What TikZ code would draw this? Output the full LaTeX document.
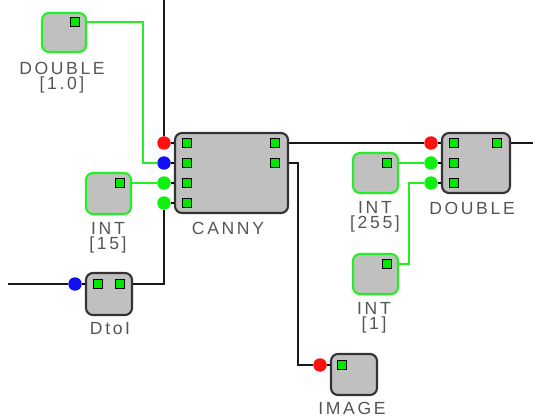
\documentclass[tikz,border=0pt]{standalone}
\usepackage{fontspec}
\newfontfamily\lblfont[LetterSpace=15]{Liberation Sans}

\definecolor{boxfill}{HTML}{C0C0C0}
\definecolor{wiregreen}{HTML}{22F022}
\definecolor{portgreen}{HTML}{00E800}
\definecolor{lblgray}{HTML}{555555}
\definecolor{dotred}{HTML}{FF1010}
\definecolor{dotblue}{HTML}{1010F0}
\definecolor{dotgreen}{HTML}{10F010}

\begin{document}
\begin{tikzpicture}[
    x=0.02cm, y=-0.02cm,
    blk/.style={draw=black!80, fill=boxfill, line width=1.2pt, rounded corners=4pt, inner sep=0pt},
    cblk/.style={blk, draw=wiregreen},
    port/.style={draw=black, fill=portgreen, line width=0.7pt, minimum size=0.17cm, inner sep=0pt},
    dot/.style={circle, minimum size=0.27cm, inner sep=0pt},
    wire/.style={draw=black!90, line width=0.85pt},
    gwire/.style={draw=wiregreen, line width=0.85pt},
    stub/.style={draw=black, line width=1.6pt},
    lbl/.style={font=\lblfont\fontsize{10}{12}\selectfont, text=lblgray, anchor=north, align=center, inner sep=0pt},
]

\useasboundingbox (0,0) rectangle (533,418);

% name, style, x1, y1, x2, y2
\newcommand{\gatebox}[6]{
    \node[#2, minimum width={(#5-#3)*0.02cm}, minimum height={(#6-#4)*0.02cm}]
        (#1) at ({(#3+#5)/2}, {(#4+#6)/2}) {};
}

% Boxes
\gatebox{dbl1}{cblk}{42}{13}{86}{52}
\gatebox{canny}{blk}{175}{133}{288}{213}
\gatebox{int15}{cblk}{86}{173}{131}{214}
\gatebox{dtoi}{blk}{86}{273}{132}{315}
\gatebox{dbl2}{blk}{442}{133}{510}{193}
\gatebox{int255}{cblk}{353}{153}{398}{193}
\gatebox{int1}{cblk}{353}{254}{398}{294}
\gatebox{image}{blk}{331}{354}{377}{395}

% Ports
\node[port] (dbl1-o) at (75,22) {};
\node[port] (canny-i1) at (187,143) {};
\node[port] (canny-i2) at (187,163) {};
\node[port] (canny-i3) at (187,183) {};
\node[port] (canny-i4) at (187,203) {};
\node[port] (canny-o1) at (275,143) {};
\node[port] (canny-o2) at (275,163) {};
\node[port] (int15-o) at (120,183) {};
\node[port] (dtoi-i) at (98,284) {};
\node[port] (dtoi-o) at (120,284) {};
\node[port] (dbl2-i1) at (454,143) {};
\node[port] (dbl2-i2) at (454,163) {};
\node[port] (dbl2-i3) at (454,183) {};
\node[port] (dbl2-o) at (497,143) {};
\node[port] (int255-o) at (387,163) {};
\node[port] (int1-o) at (387,264) {};
\node[port] (image-i) at (342,365) {};

% Input dots
\node[dot, fill=dotred] (canny-d1) at (164,143) {};
\node[dot, fill=dotblue] (canny-d2) at (164,163) {};
\node[dot, fill=dotgreen] (canny-d3) at (164,183) {};
\node[dot, fill=dotgreen] (canny-d4) at (164,203) {};
\node[dot, fill=dotblue] (dtoi-d) at (75,284) {};
\node[dot, fill=dotred] (dbl2-d1) at (431,143) {};
\node[dot, fill=dotgreen] (dbl2-d2) at (431,163) {};
\node[dot, fill=dotgreen] (dbl2-d3) at (431,183) {};
\node[dot, fill=dotred] (image-d) at (320,365) {};

\foreach \d in {canny-d1,canny-d2,canny-d3,canny-d4}
    \draw[stub] (\d.east) -- (canny.west |- \d);
\foreach \d in {dbl2-d1,dbl2-d2,dbl2-d3}
    \draw[stub] (\d.east) -- (dbl2.west |- \d);
\draw[stub] (dtoi-d.east) -- (dtoi.west |- dtoi-d);
\draw[stub] (image-d.east) -- (image.west |- image-d);

% Wires
\coordinate (top-in) at (164,0);
\coordinate (left-in) at (8,284);
\coordinate (right-out) at (533,143);
\coordinate (bend1) at (143,90);
\coordinate (bend2) at (298,260);
\coordinate (bend3) at (409,220);

\draw[wire] (top-in) -- (canny-d1);
\draw[gwire] (dbl1.east |- dbl1-o) -| (bend1) |- (canny-d2);
\draw[gwire] (int15.east |- int15-o) -- (canny-d3);
\draw[wire] (canny-d4) |- (dtoi.east |- dtoi-o);
\draw[wire] (left-in) -- (dtoi-d);
\draw[wire] (canny.east |- canny-o1) -- (dbl2-d1);
\draw[wire] (dbl2.east |- dbl2-o) -- (right-out);
\draw[wire] (canny.east |- canny-o2) -| (bend2) |- (image-d);
\draw[gwire] (int255.east |- int255-o) -- (dbl2-d2);
\draw[gwire] (int1.east |- int1-o) -| (bend3) |- (dbl2-d3);

% Labels
\node[lbl] (dbl1-l) at (62,62) {DOUBLE\\[-3.5pt]{[1.0]}};
\node[lbl] (canny-l) at (228,222) {CANNY};
\node[lbl] (int15-l) at (108,222) {INT\\[-3.5pt]{[15]}};
\node[lbl] (dtoi-l) at (110,322) {DtoI};
\node[lbl] (dbl2-l) at (472,202) {DOUBLE};
\node[lbl] (int255-l) at (375,201) {INT\\[-3.5pt]{[255]}};
\node[lbl] (int1-l) at (374,302) {INT\\[-3.5pt]{[1]}};
\node[lbl] (image-l) at (352,402) {IMAGE};

\end{tikzpicture}
\end{document}
